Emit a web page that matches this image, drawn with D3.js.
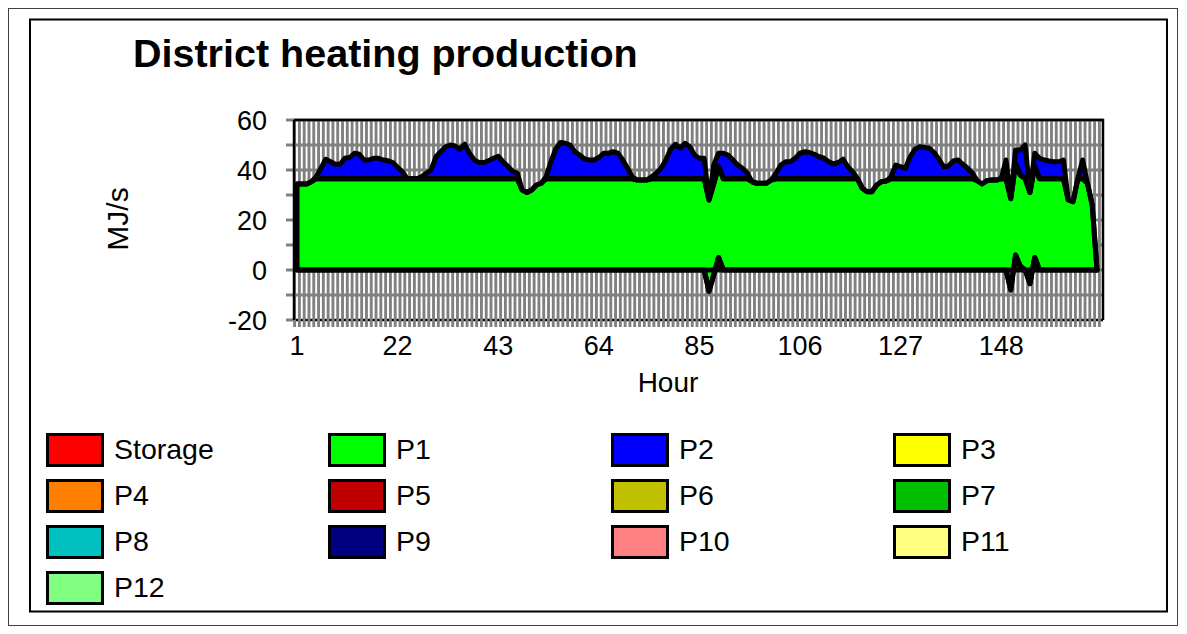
<!DOCTYPE html>
<html>
<head>
<meta charset="utf-8">
<script src="https://cdn.jsdelivr.net/npm/d3@7"></script>
<style>
  body { margin: 0; background: #fff; }
  svg { display: block; font-family: Arial, "Liberation Sans", sans-serif; }
</style>
</head>
<body>
<svg id="chart" width="1187" height="634"></svg>
<script>
// Hourly heat production over one week (MJ/s)
const hours = d3.range(1, 169);

const storage = [
  0,0,0,0,0,0,0,0,0,0,0,0,
  0,0,0,0,0,0,0,0,0,0,0,0,
  0,0,0,0,0,0,0,0,0,0,0,0,
  0,0,0,0,0,0,0,0,0,0,0,0,
  0,0,0,0,0,0,0,0,0,0,0,0,
  0,0,0,0,0,0,0,0,0,0,0,0,
  0,0,0,0,0,0,0,0,0,0,0,0,
  0,0,-8.5,-2,5,0,0,0,0,0,0,0,
  0,0,0,0,0,0,0,0,0,0,0,0,
  0,0,0,0,0,0,0,0,0,0,0,0,
  0,0,0,0,0,0,0,0,0,0,0,0,
  0,0,0,0,0,0,0,0,0,0,0,0,
  0,0,0,0,0,-8,6,1.5,0,-5.5,5,0,
  0,0,0,0,0,0,0,0,0,0,0,0
];

const p1 = [
  34.4,34.4,34.4,35.3,36.5,36.5,36.5,36.5,36.5,36.5,36.5,36.5,
  36.5,36.5,36.5,36.5,36.5,36.5,36.5,36.5,36.5,36.5,36.5,36.5,
  36.5,36.5,36.5,36.5,36.5,36.5,36.5,36.5,36.5,36.5,36.5,36.5,
  36.5,36.5,36.5,36.5,36.5,36.5,36.5,36.5,36.5,36.5,36.5,32,
  31,32,34,34.7,36.5,36.5,36.5,36.5,36.5,36.5,36.5,36.5,
  36.5,36.5,36.5,36.5,36.5,36.5,36.5,36.5,36.5,36.5,36.5,36,
  36,36,36.5,36.5,36.5,36.5,36.5,36.5,36.5,36.5,36.5,36.5,
  36.5,36.5,36.5,36.5,36.5,36.5,36.5,36.5,36.5,36.5,36.5,35.3,
  34.7,34.7,34.7,36,36.5,36.5,36.5,36.5,36.5,36.5,36.5,36.5,
  36.5,36.5,36.5,36.5,36.5,36.5,36.5,36.5,36.5,36.5,32.7,31.3,
  31.3,34,35.3,35.6,36.5,36.5,36.5,36.5,36.5,36.5,36.5,36.5,
  36.5,36.5,36.5,36.5,36.5,36.5,36.5,36.5,36.5,36.5,35.7,34.4,
  35.7,36,36,36.5,36.5,36.5,36.5,36.5,36.5,36.5,36.5,36.5,
  36.5,36.5,36.5,36.5,36.5,28,27.3,36.5,36.5,34.7,26,0
];

const p2 = [
  0,0,0,0,0.8,4.2,7.8,6.8,5.8,5.8,8.2,8.5,
  10.2,9.8,7.5,7.5,8.2,8.2,7.5,7.2,6.5,4.6,2.8,0,
  0,0,0.8,2.2,3.5,8.8,10.8,12.8,13.5,13.1,11.8,13.8,
  10.2,7.5,6.5,6.5,7.2,8.2,9,6.8,5,3,2.2,0,
  0,0,0,0,0.8,6.8,11.8,14.5,14.2,13.5,10.8,9.5,
  7.9,7.5,7.5,8.5,10.2,10.2,10.8,10.2,7.5,4.2,0.8,0,
  0,0,0.8,2.2,4.2,7.5,11.8,13.8,12.2,14.2,12.8,9.5,
  8.2,8.2,0,7.5,5.2,10.2,9.5,7.5,5.5,4.2,2.2,0,
  0,0,0,0,2.2,5.5,6.8,6.8,8.2,10.2,10.8,10.5,
  9.8,8.8,8.2,6.8,5.9,6.5,7.8,4.8,2.8,0.2,0,0,
  0,0,0,0,0.8,5.5,4.8,4.2,8.8,11.8,12.8,12.5,
  12.2,10.5,7.8,4.8,5.1,7.1,7.5,5.8,4.2,2.2,0,0,
  0,0,0,0,7.5,0,5.5,10,13.5,0,5.2,8.2,
  7.5,7.1,6.8,6.8,7.5,0,0,0,7.5,0,0,0
];

const seriesNames = ["Storage","P1","P2","P3","P4","P5","P6","P7","P8","P9","P10","P11","P12"];
const seriesColors = ["#ff0000","#00ff00","#0000ff","#ffff00","#ff8000","#c00000","#c0c000",
                      "#00c000","#00c0c0","#000080","#ff8080","#ffff80","#80ff80"];
const yTicks = [-20, 0, 20, 40, 60];
const yGrid = [-20, -10, 0, 10, 20, 30, 40, 50, 60];
const xTicks = [1, 22, 43, 64, 85, 106, 127, 148];

const svg = d3.select("#chart");
const color = d3.scaleOrdinal(seriesNames, seriesColors);

// outer frames
svg.append("rect").attr("x", 8.5).attr("y", 8.5).attr("width", 1169).attr("height", 617)
  .attr("fill", "none").attr("stroke", "#404040").attr("stroke-width", 1);
svg.append("rect").attr("x", 30).attr("y", 19.5).attr("width", 1137).attr("height", 592)
  .attr("fill", "none").attr("stroke", "#000").attr("stroke-width", 2);

svg.append("text").attr("x", 133).attr("y", 67)
  .attr("font-size", 39.5).attr("font-weight", "bold").text("District heating production");

// scales
const plotLeft = 294, plotRight = 1103, plotTop = 120, plotBottom = 320;
const x = d3.scalePoint().domain(hours).range([297, 1097]);
const y = d3.scaleLinear().domain([-20, 60]).range([plotBottom, plotTop]);
const step = x.step();

// grid
const grid = svg.append("g");
grid.selectAll("line.h").data(yGrid).join("line").attr("class", "h")
  .attr("x1", plotLeft - 8).attr("x2", plotRight).attr("y1", d => y(d)).attr("y2", d => y(d))
  .attr("stroke", "#808080").attr("stroke-width", 3);
grid.append("line").attr("x1", plotLeft).attr("x2", plotRight)
  .attr("y1", plotBottom).attr("y2", plotBottom)
  .attr("stroke", "#000").attr("stroke-width", 2);
const vPos = [x(hours[0]) - step / 2].concat(hours.map(h => x(h) + step / 2));
grid.selectAll("line.v").data(vPos).join("line").attr("class", "v")
  .attr("x1", d => d).attr("x2", d => d).attr("y1", plotTop).attr("y2", plotBottom + 7)
  .attr("stroke", "#808080").attr("stroke-width", 2.9);

// plot border
svg.append("path").attr("d", `M${plotLeft},${plotTop}H${plotRight}V${plotBottom}`)
  .attr("fill", "none").attr("stroke", "#000").attr("stroke-width", 2.5);
svg.append("line").attr("x1", plotLeft).attr("x2", plotLeft)
  .attr("y1", plotTop).attr("y2", plotBottom)
  .attr("stroke", "#000").attr("stroke-width", 2.5);

// stacked areas
const rows = hours.map((h, i) => ({ hour: h, Storage: storage[i], P1: p1[i], P2: p2[i] }));
const stacked = d3.stack().keys(["Storage", "P1", "P2"]).offset(d3.stackOffsetNone)(rows);
const area = d3.area()
  .x(d => x(d.data.hour)).y0(d => y(d[0])).y1(d => y(d[1]));

const areas = svg.append("g");
areas.selectAll("path.fill").data(stacked).join("path").attr("class", "fill")
  .attr("d", area).attr("fill", d => color(d.key)).attr("stroke", "none");
areas.selectAll("path.edge").data(stacked).join("path").attr("class", "edge")
  .attr("d", area).attr("fill", "none").attr("stroke", "#000")
  .attr("stroke-width", 5).attr("stroke-linejoin", "round");

// axis labels
svg.append("g").selectAll("text").data(yTicks).join("text")
  .attr("x", 267).attr("y", d => y(d)).attr("dy", "0.36em")
  .attr("text-anchor", "end").attr("font-size", 27).text(d => d);
svg.append("g").selectAll("text").data(xTicks).join("text")
  .attr("x", d => x(d)).attr("y", 355)
  .attr("text-anchor", "middle").attr("font-size", 27).text(d => d);
svg.append("text").attr("x", 668).attr("y", 392).attr("text-anchor", "middle")
  .attr("font-size", 28).text("Hour");
svg.append("text").attr("transform", "translate(128,219) rotate(-90)")
  .attr("text-anchor", "middle").attr("font-size", 30).text("MJ/s");

// legend
const legend = svg.append("g");
const colX = [46, 328, 611, 893];
const item = legend.selectAll("g").data(seriesNames).join("g")
  .attr("transform", (d, i) => `translate(${colX[i % 4]},${433 + Math.floor(i / 4) * 46})`);
item.append("rect").attr("x", 1.5).attr("y", 1.5).attr("width", 55).attr("height", 31)
  .attr("fill", d => color(d)).attr("stroke", "#000").attr("stroke-width", 3);
item.append("text").attr("x", 68).attr("y", 26).attr("font-size", 28.5).text(d => d);
</script>
</body>
</html>
